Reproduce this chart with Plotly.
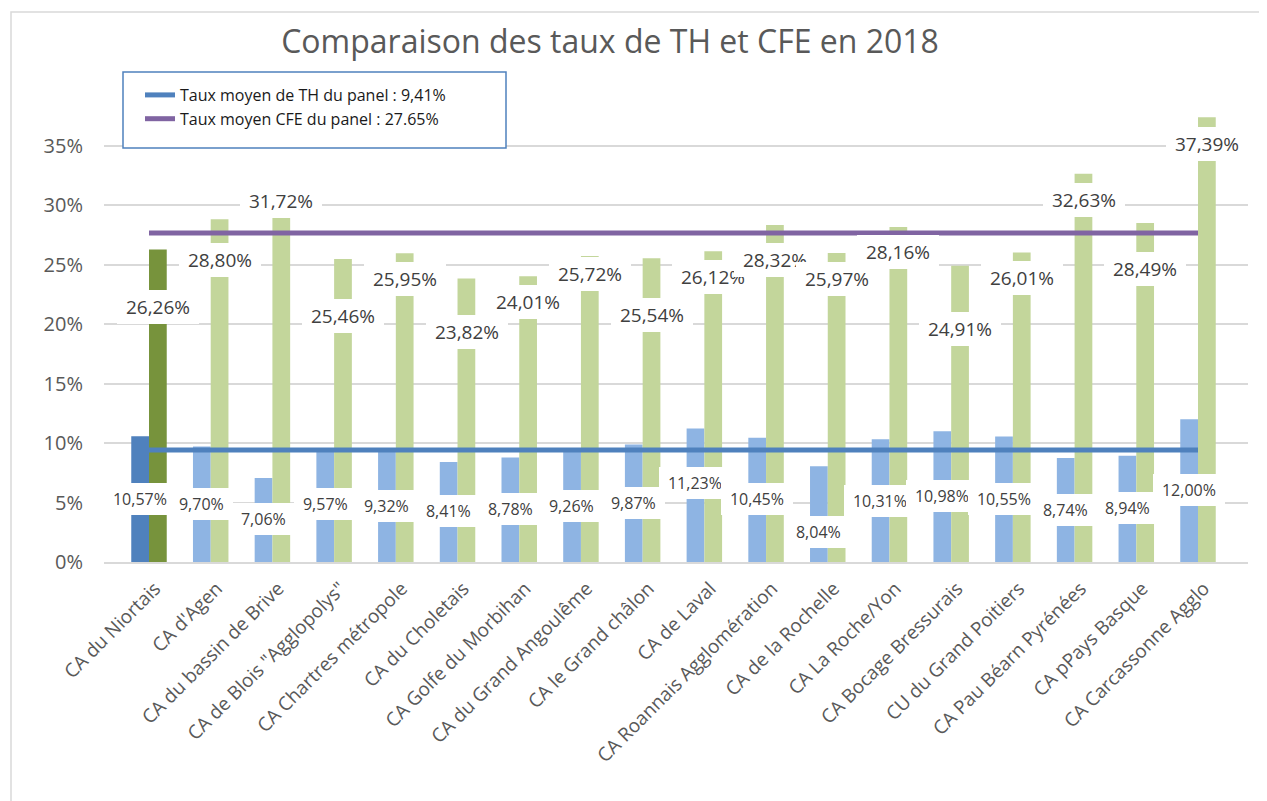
import plotly.graph_objects as go

# ---------------- data ----------------
categories = [
    "CA du Niortais", "CA d'Agen", "CA du bassin de Brive", 'CA de Blois "Agglopolys"',
    "CA Chartres métropole", "CA du Choletais", "CA Golfe du Morbihan", "CA du Grand Angoulême",
    "CA le Grand châlon", "CA de Laval", "CA Roannais Agglomération", "CA de la Rochelle",
    "CA La Roche/Yon", "CA Bocage Bressurais", "CU du Grand Poitiers", "CA Pau Béarn Pyrénées",
    "CA pPays Basque", "CA Carcassonne Agglo",
]
taux_th = [10.57, 9.70, 7.06, 9.57, 9.32, 8.41, 8.78, 9.26, 9.87, 11.23,
           10.45, 8.04, 10.31, 10.98, 10.55, 8.74, 8.94, 12.00]
taux_cfe = [26.26, 28.80, 31.72, 25.46, 25.95, 23.82, 24.01, 25.72, 25.54, 26.12,
            28.32, 25.97, 28.16, 24.91, 26.01, 32.63, 28.49, 37.39]
moyenne_th = 9.41
moyenne_cfe = 27.65
legend_th = "Taux moyen de TH du panel : 9,41%"
legend_cfe = "Taux moyen CFE du panel : 27.65%"
y_ticks = [0, 5, 10, 15, 20, 25, 30, 35]
y_tick_labels = ["0%", "5%", "10%", "15%", "20%", "25%", "30%", "35%"]

# label placement (value-axis position of each data label, as placed in the original)
cfe_label_pos = [21.45, 25.4, 30.37, 20.7, 23.77, 19.3, 21.83, 24.23, 20.78, 23.98,
                 25.4, 23.8, 26.04, 19.6, 23.9, 30.46, 24.65, 35.17]
th_label_pos = [5.3, 4.84, 3.62, 4.84, 4.67, 4.25, 4.42, 4.67, 4.96, 6.65,
                5.26, 2.52, 5.13, 5.51, 5.3, 4.37, 4.5, 6.02]

# ---------------- style ----------------
FONT = "Open Sans"
GREY = "#595959"
GRID = "#d9d9d9"
th_colors = ["#4f81bd"] + ["#8eb4e3"] * (len(categories) - 1)
cfe_colors = ["#77933c"] + ["#c3d69b"] * (len(categories) - 1)

OFF = 8  # page body margin
W, H = 1267, 801
# target plot area on the page: x 104..1248, y 98..562
ML = 104 - OFF
MT = 98 - OFF
MR = W - (1248 - OFF)
MB = H - (562 - OFF)
PW, PH = W - ML - MR, H - MT - MB


def px_to_paper_x(px):
    return (px - OFF - ML) / PW


def px_to_paper_y(py):
    return (H - MB - (py - OFF)) / PH


def fmt(v):
    return f"{v:.2f}".replace(".", ",") + "%"


def text_w(s, size):
    w = 0
    for ch in s:
        if ch.isdigit():
            w += 0.572
        elif ch == ",":
            w += 0.26
        elif ch == "%":
            w += 0.82
        else:
            w += 0.55
    return w * size


fig = go.Figure()
fig.add_trace(go.Bar(x=categories, y=taux_th, marker=dict(color=th_colors, line=dict(width=0)),
                     showlegend=False, hoverinfo="skip"))
fig.add_trace(go.Bar(x=categories, y=taux_cfe, marker=dict(color=cfe_colors, line=dict(width=0)),
                     showlegend=False, hoverinfo="skip"))
fig.add_trace(go.Scatter(x=[categories[0], categories[-1]], y=[moyenne_th, moyenne_th],
                         mode="lines", line=dict(color="#4f81bd", width=5), name=legend_th))
fig.add_trace(go.Scatter(x=[categories[0], categories[-1]], y=[moyenne_cfe, moyenne_cfe],
                         mode="lines", line=dict(color="#8064a2", width=5), name=legend_cfe))

annotations = []
for cat, v, pos in zip(categories, taux_cfe, cfe_label_pos):
    t = fmt(v)
    annotations.append(dict(x=cat, y=pos, xref="x", yref="y", text=t, showarrow=False,
                            xshift=9, yanchor="middle", xanchor="center",
                            font=dict(family=FONT, size=19, color="#404040"),
                            bgcolor="white", borderpad=2, borderwidth=0,
                            width=text_w(t, 19) + 14, height=30))
for cat, v, pos in zip(categories, taux_th, th_label_pos):
    t = fmt(v)
    annotations.append(dict(x=cat, y=pos, xref="x", yref="y", text=t, showarrow=False,
                            xshift=-9, yanchor="middle", xanchor="center",
                            font=dict(family=FONT, size=16, color="#404040"),
                            bgcolor="white", borderpad=2, borderwidth=0,
                            width=text_w(t, 16) + 14, height=28))

shapes = [
    # outer chart border
    dict(type="rect", xref="paper", yref="paper",
         x0=px_to_paper_x(11), x1=px_to_paper_x(1300),
         y0=px_to_paper_y(860), y1=px_to_paper_y(12),
         line=dict(color=GRID, width=1.5), fillcolor="rgba(0,0,0,0)", layer="below"),
    # legend frame
    dict(type="rect", xref="paper", yref="paper",
         x0=px_to_paper_x(123), x1=px_to_paper_x(506),
         y0=px_to_paper_y(148), y1=px_to_paper_y(72),
         line=dict(color="#4f81bd", width=1.5), fillcolor="white", layer="above"),
]

fig.update_layout(
    width=W, height=H,
    margin=dict(l=ML, r=MR, t=MT, b=MB, autoexpand=False),
    paper_bgcolor="white", plot_bgcolor="white",
    barmode="group", bargap=0.425, bargroupgap=0,
    font=dict(family=FONT, color=GREY),
    title=dict(text="Comparaison des taux de TH et CFE en 2018",
               x=(610 - OFF) / W, xref="container", xanchor="center",
               y=1 - (42 - OFF) / H, yref="container", yanchor="middle",
               font=dict(family=FONT, size=32, color=GREY)),
    xaxis=dict(tickangle=-45, tickfont=dict(family=FONT, size=19, color=GREY),
               showgrid=False, showline=True, linecolor=GRID, linewidth=2, ticks="",
               ticklabelshift=6, ticklabelstandoff=6, automargin=False),
    yaxis=dict(range=[0, 39], tickmode="array", tickvals=y_ticks, ticktext=y_tick_labels,
               tickfont=dict(family=FONT, size=20, color=GREY),
               showgrid=True, gridcolor=GRID, gridwidth=1.5, zeroline=False,
               showline=False, ticks="", ticklabelstandoff=20, automargin=False),
    legend=dict(x=px_to_paper_x(140), y=px_to_paper_y(78), xanchor="left", yanchor="top",
                bgcolor="rgba(0,0,0,0)", borderwidth=0,
                font=dict(family=FONT, size=16, color="#1a1a1a"),
                tracegroupgap=0),
    annotations=annotations,
    shapes=shapes,
)

fig.write_html("out.html")
